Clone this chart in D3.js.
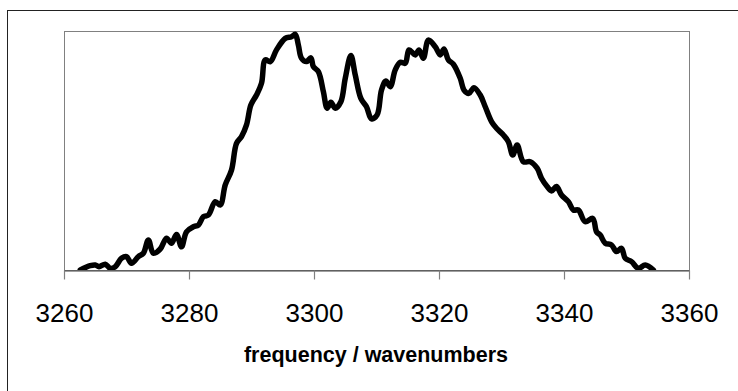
<!DOCTYPE html>
<html>
<head>
<meta charset="utf-8">
<script src="https://cdn.jsdelivr.net/npm/d3@7"></script>
<style>
  html, body { margin: 0; padding: 0; background: #fff; }
  svg { display: block; }
</style>
</head>
<body>
<svg id="chart" width="738" height="391"></svg>
<script>
// Spectrum samples: frequency (wavenumbers) and relative intensity
const frequency = [
  3262.6, 3264.2, 3265.0, 3265.6, 3266.6, 3267.4, 3268.2, 3269.2, 3270.0, 3270.8,
  3271.9, 3272.7, 3273.5, 3274.3, 3275.4, 3276.4, 3277.2, 3278.0, 3278.8, 3279.6,
  3280.7, 3281.5, 3282.3, 3283.1, 3284.2, 3285.0, 3285.8, 3286.8, 3287.6, 3288.4,
  3289.2, 3289.9, 3290.8, 3291.6, 3292.2, 3293.0, 3294.0, 3295.4, 3296.4, 3297.0,
  3297.5, 3298.0, 3298.8, 3299.5, 3299.9, 3300.7, 3301.5, 3302.1, 3302.7, 3303.4,
  3304.3, 3305.0, 3305.9, 3306.6, 3307.5, 3308.4, 3309.2, 3310.1, 3310.8, 3311.5,
  3312.2, 3313.0, 3313.8, 3314.6, 3315.2, 3316.2, 3316.8, 3317.5, 3318.3, 3319.4,
  3320.2, 3320.8, 3321.5, 3322.3, 3323.4, 3324.0, 3324.8, 3325.6, 3326.6, 3327.4,
  3328.4, 3329.2, 3330.3, 3331.1, 3331.8, 3332.5, 3333.5, 3334.6, 3335.7, 3336.4,
  3337.3, 3338.0, 3338.8, 3339.6, 3340.7, 3341.5, 3342.3, 3343.4, 3344.6, 3345.2,
  3345.8, 3346.6, 3347.6, 3348.4, 3349.2, 3349.8, 3350.8, 3351.9, 3353.0, 3354.3
];
const intensity = [
  0.000, 0.018, 0.021, 0.014, 0.024, 0.007, 0.014, 0.049, 0.056, 0.028,
  0.056, 0.070, 0.126, 0.070, 0.088, 0.133, 0.112, 0.149, 0.097, 0.160,
  0.181, 0.188, 0.223, 0.230, 0.286, 0.272, 0.356, 0.418, 0.530, 0.558,
  0.607, 0.690, 0.732, 0.781, 0.879, 0.872, 0.921, 0.969, 0.976, 0.986,
  0.941, 0.886, 0.872, 0.888, 0.851, 0.830, 0.746, 0.677, 0.702, 0.677,
  0.704, 0.802, 0.897, 0.816, 0.718, 0.683, 0.632, 0.649, 0.753, 0.791,
  0.767, 0.837, 0.869, 0.865, 0.921, 0.900, 0.921, 0.886, 0.962, 0.934,
  0.900, 0.925, 0.879, 0.861, 0.802, 0.753, 0.739, 0.763, 0.732, 0.683,
  0.621, 0.593, 0.565, 0.537, 0.481, 0.523, 0.453, 0.453, 0.426, 0.384,
  0.349, 0.331, 0.349, 0.314, 0.286, 0.251, 0.251, 0.202, 0.216, 0.160,
  0.146, 0.112, 0.105, 0.077, 0.091, 0.049, 0.035, 0.007, 0.021, 0.000
];
const xTicks = [3260, 3280, 3300, 3320, 3340, 3360];
const xTitle = "frequency / wavenumbers";

const data = frequency.map((f, i) => ({ f, v: intensity[i] }));

const svg = d3.select("#chart");
const plot = { left: 64, right: 689, top: 31, bottom: 270 };

const x = d3.scaleLinear().domain([3260, 3360]).range([plot.left, plot.right]);
const y = d3.scaleLinear().domain([0, 1]).range([plot.bottom, plot.top]);

// Outer chart frame (runs off the right and bottom edges)
svg.append("rect")
  .attr("x", 7.5).attr("y", 10.5)
  .attr("width", 760).attr("height", 420)
  .attr("fill", "none").attr("stroke", "#222").attr("stroke-width", 1);

// Plot area frame
svg.append("rect")
  .attr("x", plot.left + 0.5).attr("y", plot.top + 0.5)
  .attr("width", plot.right - plot.left).attr("height", plot.bottom - plot.top)
  .attr("fill", "none").attr("stroke", "#808080").attr("stroke-width", 1);

// Clip so the thick trace stays inside the plot area
svg.append("clipPath").attr("id", "plotClip")
  .append("rect")
  .attr("x", plot.left).attr("y", plot.top - 10)
  .attr("width", plot.right - plot.left).attr("height", plot.bottom - plot.top + 10);

const line = d3.line()
  .x(d => x(d.f))
  .y(d => y(d.v))
  .curve(d3.curveCatmullRom.alpha(0.5));

svg.append("path")
  .datum(data)
  .attr("clip-path", "url(#plotClip)")
  .attr("d", line)
  .attr("fill", "none")
  .attr("stroke", "#000")
  .attr("stroke-width", 5.5)
  .attr("stroke-linejoin", "round")
  .attr("stroke-linecap", "round");

// Bottom axis
const axis = d3.axisBottom(x)
  .tickValues(xTicks)
  .tickFormat(d3.format("d"))
  .tickSizeInner(9)
  .tickSizeOuter(0)
  .tickPadding(22);

const gx = svg.append("g")
  .attr("transform", `translate(0,${plot.bottom + 0.5})`)
  .call(axis);

gx.select(".domain").attr("stroke", "#404040").attr("stroke-width", 1.2);
gx.selectAll(".tick line").attr("stroke", "#808080").attr("stroke-width", 1.2);
gx.selectAll(".tick text")
  .attr("fill", "#000")
  .attr("font-family", "Liberation Sans, Arial, sans-serif")
  .attr("font-size", 26)
  .attr("dy", "0.71em")
  .attr("y", 33);

// Axis title
svg.append("text")
  .attr("x", 376)
  .attr("y", 362)
  .attr("text-anchor", "middle")
  .attr("font-family", "Liberation Sans, Arial, sans-serif")
  .attr("font-weight", "bold")
  .attr("font-size", 21.5)
  .attr("fill", "#000")
  .text(xTitle);
</script>
</body>
</html>
